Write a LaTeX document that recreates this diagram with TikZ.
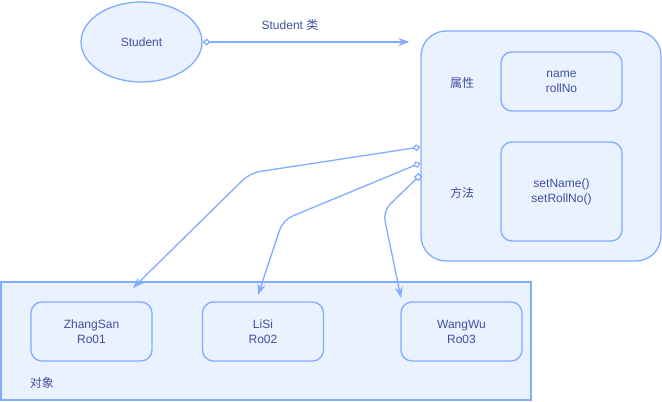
\documentclass[tikz,border=0pt]{standalone}
\usepackage{fontspec}
\setmainfont{Liberation Sans}
\newfontfamily\cjk{Noto Sans CJK SC}
\usetikzlibrary{arrows.meta, positioning, shapes.geometric}
\definecolor{lineblue}{RGB}{130,172,255}
\definecolor{fillblue}{RGB}{234,242,255}
\definecolor{textblue}{RGB}{62,80,160}

\tikzset{
  box/.style={draw=lineblue, fill=fillblue, line width=1.3pt},
  member/.style={box, rounded corners=11pt, minimum width=121pt, minimum height=59pt},
  link/.style={draw=lineblue, line width=1.3pt, rounded corners=10pt},
}

\begin{document}
\begin{tikzpicture}[x=1pt, y=-1pt, >={Stealth[length=11pt,width=8pt]},
  every node/.style={align=center, text=textblue, font=\fontsize{12}{15}\selectfont}]
\useasboundingbox (0,0) rectangle (662,402);

% containers
\node (objs)  [box, minimum width=530pt, minimum height=118pt] at (266,341) {};
\node (cls)   [box, rounded corners=25pt, minimum width=240pt, minimum height=230pt] at (541,146) {};
\node (stu)   [box, ellipse, minimum width=121pt, minimum height=80pt] at (141.5,42) {Student};

% class members
\node (attr)    [member] at (561.5,81.5) {name\\rollNo};
\node (meth)    [member, minimum height=99pt] at (561.5,191.5) {setName()\\setRollNo()};
\node (attrlbl) at (462,83)  {\cjk 属性};
\node (methlbl) at (462,193) {\cjk 方法};

% objects
\node (zhang)  [member] at (91.5,331.5)  {ZhangSan\\Ro01};
\node (lisi)   [member] at (263,331.5)   {LiSi\\Ro02};
\node (wang)   [member] at (461.5,331.5) {WangWu\\Ro03};
\node (objlbl) at (42,383) {\cjk 对象};

\node (rel) at (290,25) {Student {\cjk 类}};

% free arrow ends
\coordinate (e1) at (133,288);
\coordinate (e2) at (258,295);
\coordinate (e3) at (401,298);

\draw[link, {Diamond[open,length=8pt,width=7pt]}->, shorten >=11pt] (stu.east) -- (stu -| cls.west);
\draw[link, {Diamond[open,length=8pt,width=7pt]}->] ([yshift=-1pt]cls.west) -- (250,173) -- (e1);
\draw[link, {Diamond[open,length=8pt,width=7pt]}->] ([yshift=-17pt]cls.west) -- (283,220) -- (e2);
\draw[link, {Square[open,length=6pt,width=6pt]}->] ([yshift=-29pt]cls.west) -- (383,211) -- (e3);
\end{tikzpicture}
\end{document}
